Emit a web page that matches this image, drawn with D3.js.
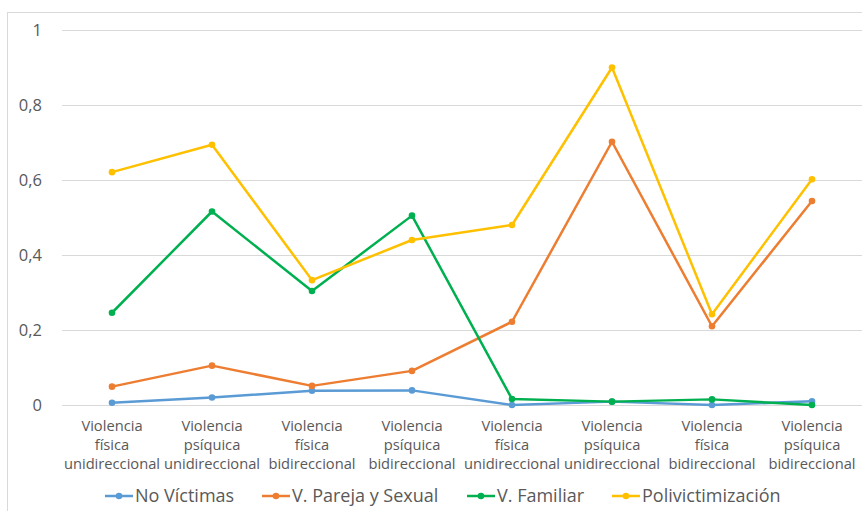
<!DOCTYPE html>
<html>
<head>
<meta charset="utf-8">
<script src="https://cdn.jsdelivr.net/npm/d3@7"></script>
<style>
  body { margin: 0; background: #fff; }
  svg text { font-family: "Open Sans", "DejaVu Sans", sans-serif; fill: #595959; }
</style>
</head>
<body>
<svg id="chart" width="862" height="511"></svg>
<script>
// categories (x axis, three lines each)
var categories = [
    ['Violencia', 'física', 'unidireccional'],
    ['Violencia', 'psíquica', 'unidireccional'],
    ['Violencia', 'física', 'bidireccional'],
    ['Violencia', 'psíquica', 'bidireccional'],
    ['Violencia', 'física', 'unidireccional'],
    ['Violencia', 'psíquica', 'unidireccional'],
    ['Violencia', 'física', 'bidireccional'],
    ['Violencia', 'psíquica', 'bidireccional']
];

var seriesNames = ['No Víctimas', 'V. Pareja y Sexual', 'V. Familiar', 'Polivictimización'];
var seriesColors = ['#5B9BD5', '#ED7D31', '#00B050', '#FFC000'];

var noVictimas   = [0.006, 0.020, 0.038, 0.039, 0.000, 0.009, 0.000, 0.010];
var parejaSexual = [0.049, 0.105, 0.051, 0.091, 0.222, 0.702, 0.210, 0.544];
var familiar     = [0.246, 0.516, 0.304, 0.505, 0.016, 0.009, 0.015, 0.000];
var polivict     = [0.621, 0.694, 0.333, 0.440, 0.480, 0.900, 0.242, 0.602];

var yTicks = [0, 0.2, 0.4, 0.6, 0.8, 1];

var seriesValues = [noVictimas, parejaSexual, familiar, polivict];

var svg = d3.select('#chart');

// outer chart border
svg.append('rect')
    .attr('x', 7.5).attr('y', 12.5)
    .attr('width', 900).attr('height', 600)
    .attr('fill', 'none')
    .attr('stroke', '#d9d9d9');

var x = d3.scaleBand()
    .domain(d3.range(categories.length))
    .range([62, 862]);

var y = d3.scaleLinear()
    .domain([0, 1])
    .range([405, 30]);

var fmt = function(d) { return String(d).replace('.', ','); };

// gridlines
svg.append('g').selectAll('line')
    .data(yTicks)
    .enter().append('line')
    .attr('x1', 62).attr('x2', 862)
    .attr('y1', function(d) { return Math.round(y(d)) + 0.5; })
    .attr('y2', function(d) { return Math.round(y(d)) + 0.5; })
    .attr('stroke', '#d9d9d9')
    .attr('stroke-width', 1);

// y labels
var yAxis = d3.axisLeft(y).tickValues(yTicks).tickFormat(fmt).tickSize(0).tickPadding(0);
var gy = svg.append('g').attr('transform', 'translate(42,0)').call(yAxis);
gy.select('.domain').remove();
gy.selectAll('text')
    .attr('font-size', 16.5)
    .attr('font-family', null)
    .attr('fill', '#595959');

// x labels
var gx = svg.append('g');
categories.forEach(function(lines, i) {
    var t = gx.append('text')
        .attr('x', x(i) + x.bandwidth() / 2)
        .attr('y', 431)
        .attr('text-anchor', 'middle')
        .attr('font-size', 14.7);
    lines.forEach(function(l, j) {
        t.append('tspan')
            .attr('x', x(i) + x.bandwidth() / 2)
            .attr('dy', j === 0 ? 0 : 19)
            .text(l);
    });
});

// lines
var line = d3.line()
    .x(function(d, i) { return x(i) + x.bandwidth() / 2; })
    .y(function(d) { return y(d); });

seriesValues.forEach(function(vals, s) {
    var g = svg.append('g');
    g.append('path')
        .datum(vals)
        .attr('d', line)
        .attr('fill', 'none')
        .attr('stroke', seriesColors[s])
        .attr('stroke-width', 2.5)
        .attr('stroke-linejoin', 'round');
    g.selectAll('circle')
        .data(vals)
        .enter().append('circle')
        .attr('cx', function(d, i) { return x(i) + x.bandwidth() / 2; })
        .attr('cy', function(d) { return y(d); })
        .attr('r', 3.3)
        .attr('fill', seriesColors[s]);
});

// legend
var legendX = [105, 262, 467, 612];
var legend = svg.append('g');
seriesNames.forEach(function(name, s) {
    var lg = legend.append('g').attr('transform', 'translate(' + legendX[s] + ',496)');
    lg.append('line')
        .attr('x1', 0).attr('x2', 28)
        .attr('stroke', seriesColors[s])
        .attr('stroke-width', 2.5);
    lg.append('circle')
        .attr('cx', 14).attr('r', 3.3)
        .attr('fill', seriesColors[s]);
    lg.append('text')
        .attr('x', 30)
        .attr('dy', '0.35em')
        .attr('font-size', 18)
        .text(name);
});
</script>
</body>
</html>
